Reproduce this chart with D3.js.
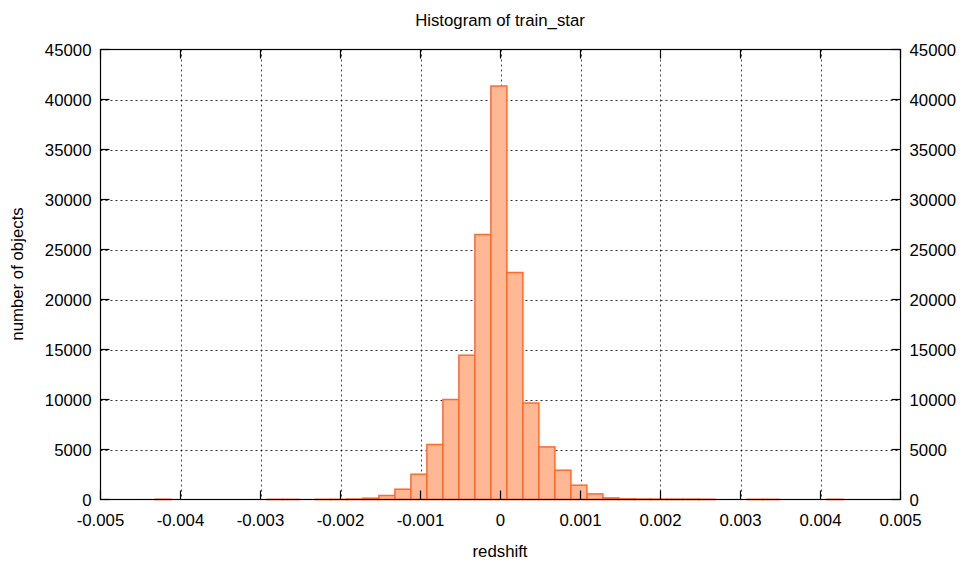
<!DOCTYPE html>
<html><head><meta charset="utf-8">
<script src="https://cdn.jsdelivr.net/npm/d3@7"></script>
<style>
html,body{margin:0;padding:0;background:#fff;}
svg{display:block;}
text{font-family:"Liberation Sans",Arial,Helvetica,sans-serif;fill:#000;}
</style></head>
<body>
<svg id="chart" width="972" height="569"></svg>
<script>
// bin start (redshift) and count per bin, bin width 0.0002
const binStarts = [-0.00432, -0.00292, -0.00272, -0.00232, -0.00212, -0.00192, -0.00172, -0.00152,
  -0.00132, -0.00112, -0.00092, -0.00072, -0.00052, -0.00032, -0.00012, 0.00008, 0.00028,
  0.00048, 0.00068, 0.00088, 0.00108, 0.00128, 0.00148, 0.00168, 0.00188, 0.00208, 0.00228,
  0.00248, 0.00308, 0.00328, 0.00408];
const counts = [20, 8, 8, 10, 10, 40, 130, 400,
  1030, 2530, 5500, 10000, 14430, 26500, 41350, 22700, 9650,
  5260, 2930, 1430, 560, 160, 60, 40, 30, 30, 30,
  20, 10, 10, 15];
const binWidth = 0.0002;
const xTicks = [-0.005, -0.004, -0.003, -0.002, -0.001, 0, 0.001, 0.002, 0.003, 0.004, 0.005];
const xTickLabels = ["-0.005", "-0.004", "-0.003", "-0.002", "-0.001", "0", "0.001", "0.002", "0.003", "0.004", "0.005"];
const yTicks = [0, 5000, 10000, 15000, 20000, 25000, 30000, 35000, 40000, 45000];
const title = "Histogram of train_star";
const xLabel = "redshift";
const yLabel = "number of objects";

const svg = d3.select("#chart");
const L = 100.5, R = 900.5, T = 49.5, B = 499.5;
const x = d3.scaleLinear().domain([-0.005, 0.005]).range([L, R]);
const y = d3.scaleLinear().domain([0, 45000]).range([B, T]);
const fs = 16.8;

// grid
const grid = svg.append("g");
grid.selectAll("line.gx").data(xTicks.slice(1, -1)).enter().append("line")
  .attr("x1", d => Math.round(x(d)) + 0.5).attr("x2", d => Math.round(x(d)) + 0.5)
  .attr("y1", T).attr("y2", B)
  .attr("stroke", "#000").attr("stroke-width", 1).attr("stroke-dasharray", "2,3").attr("opacity", 0.7);
grid.selectAll("line.gy").data(yTicks.slice(1, -1)).enter().append("line")
  .attr("y1", d => Math.round(y(d)) + 0.5).attr("y2", d => Math.round(y(d)) + 0.5)
  .attr("x1", L).attr("x2", R)
  .attr("stroke", "#000").attr("stroke-width", 1).attr("stroke-dasharray", "2,3").attr("opacity", 0.8);

// bars
const data = binStarts.map((s, i) => ({s, c: counts[i]}));
svg.append("g").selectAll("rect").data(data).enter().append("rect")
  .attr("x", d => x(d.s))
  .attr("width", d => x(d.s + binWidth) - x(d.s))
  .attr("y", d => y(d.c))
  .attr("height", d => y(0) - y(d.c))
  .attr("fill", "#ffb894")
  .attr("stroke", "#ff6a2c").attr("stroke-width", 1.5);

// border and ticks
const axes = svg.append("g");
axes.append("rect").attr("x", L).attr("y", T).attr("width", R - L).attr("height", B - T)
  .attr("fill", "none").attr("stroke", "#000").attr("stroke-width", 1.2);
const tl = 9;
const xt = axes.selectAll("g.xt").data(xTicks).enter().append("g");
xt.append("line").attr("x1", d => x(d)).attr("x2", d => x(d)).attr("y1", B).attr("y2", B - tl).attr("stroke", "#000").attr("stroke-width", 1.2);
xt.append("line").attr("x1", d => x(d)).attr("x2", d => x(d)).attr("y1", T).attr("y2", T + tl).attr("stroke", "#000").attr("stroke-width", 1.2);
xt.append("text").attr("x", d => x(d)).attr("y", B + 26).attr("text-anchor", "middle")
  .attr("font-size", fs).text((d, i) => xTickLabels[i]);
const yt = axes.selectAll("g.yt").data(yTicks).enter().append("g");
yt.append("line").attr("y1", d => y(d)).attr("y2", d => y(d)).attr("x1", L).attr("x2", L + tl).attr("stroke", "#000").attr("stroke-width", 1.2);
yt.append("line").attr("y1", d => y(d)).attr("y2", d => y(d)).attr("x1", R).attr("x2", R - tl).attr("stroke", "#000").attr("stroke-width", 1.2);
yt.append("text").attr("x", L - 9).attr("y", d => y(d) + 6).attr("text-anchor", "end")
  .attr("font-size", fs).text(d => d);
yt.append("text").attr("x", R + 9).attr("y", d => y(d) + 6).attr("text-anchor", "start")
  .attr("font-size", fs).text(d => d);

svg.append("text").attr("x", 500).attr("y", 26).attr("text-anchor", "middle").attr("font-size", 16.8).text(title);
svg.append("text").attr("x", 500).attr("y", 557).attr("text-anchor", "middle").attr("font-size", fs).text(xLabel);
svg.append("text").attr("transform", "translate(23,274) rotate(-90)").attr("text-anchor", "middle").attr("font-size", fs).text(yLabel);
</script>
</body></html>
